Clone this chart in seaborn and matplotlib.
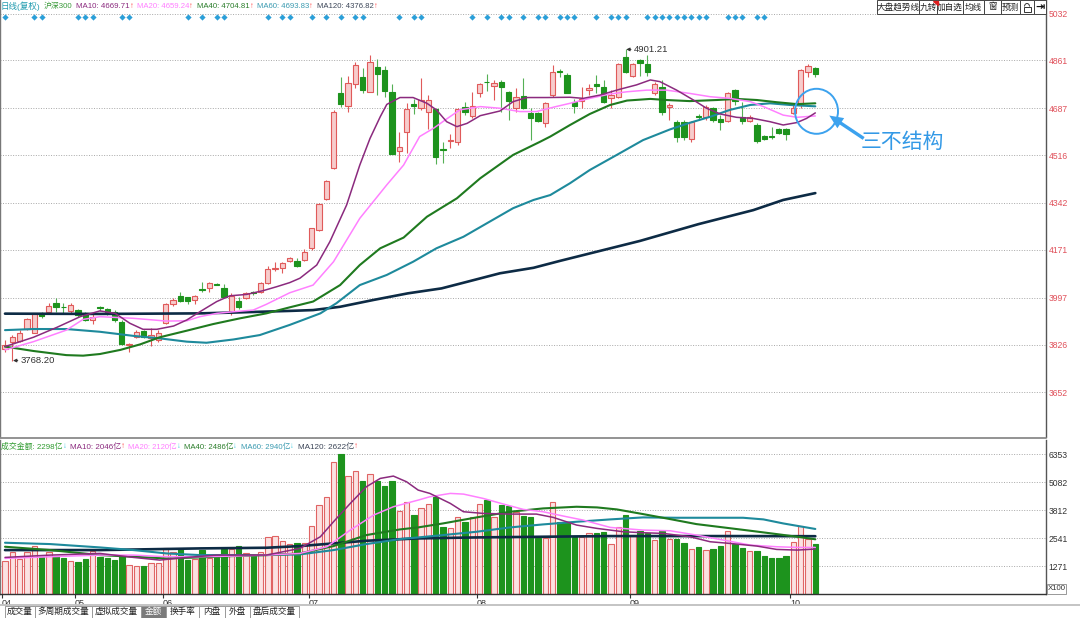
import numpy as np
import pandas as pd
import matplotlib
matplotlib.use("Agg")
import matplotlib.pyplot as plt
import seaborn as sns
from matplotlib.patches import Rectangle, Ellipse, FancyArrowPatch, Polygon, Arc
from matplotlib.transforms import blended_transform_factory

sns.set_theme(style="white")
plt.rcParams["font.family"] = ["Liberation Sans", "Noto Sans CJK SC", "DejaVu Sans"]
plt.rcParams["axes.unicode_minus"] = False

# ---------------- data ----------------
opens = [3810, 3836, 3841, 3882, 3870, 3940, 3945, 3979, 3964, 3950,
         3952, 3942, 3916, 3962, 3955, 3946, 3910, 3825, 3855, 3876,
         3849, 3843, 3904, 3974, 4004, 3998, 3989, 4027, 4031, 4047,
         4031, 3946, 3986, 3997, 4016, 4019, 4049, 4100, 4104, 4131,
         4131, 4134, 4177, 4244, 4356, 4468, 4741, 4696, 4774, 4800,
         4747, 4838, 4825, 4745, 4531, 4602, 4701, 4687, 4672, 4684,
         4537, 4569, 4563, 4693, 4659, 4741, 4784, 4768, 4781, 4745,
         4687, 4733, 4668, 4668, 4632, 4735, 4823, 4808, 4711, 4715,
         4753, 4774, 4763, 4723, 4729, 4875, 4806, 4863, 4847, 4741,
         4763, 4690, 4638, 4636, 4574, 4657, 4654, 4687, 4648, 4641,
         4753, 4654, 4642, 4626, 4586, 4585, 4610, 4610, 4668, 4700,
         4820, 4832]
closes = [3825, 3853, 3870, 3918, 3940, 3930, 3967, 3964, 3962, 3970,
          3934, 3916, 3928, 3958, 3940, 3916, 3828, 3827, 3873, 3853,
          3860, 3870, 3974, 3989, 3986, 3986, 4004, 4025, 4049, 4044,
          4001, 4003, 3962, 4013, 4014, 4049, 4100, 4104, 4125, 4140,
          4114, 4165, 4250, 4337, 4422, 4672, 4702, 4778, 4845, 4753,
          4857, 4812, 4750, 4520, 4547, 4684, 4696, 4717, 4717, 4511,
          4534, 4573, 4684, 4675, 4696, 4774, 4781, 4778, 4766, 4713,
          4727, 4687, 4653, 4642, 4707, 4818, 4818, 4744, 4695, 4719,
          4759, 4769, 4711, 4735, 4848, 4820, 4848, 4850, 4820, 4774,
          4675, 4699, 4583, 4583, 4638, 4655, 4693, 4644, 4638, 4741,
          4715, 4642, 4654, 4569, 4574, 4582, 4598, 4592, 4687, 4826,
          4841, 4810]
highs = [3843, 3861, 3879, 3924, 3942, 3946, 3979, 3997, 3976, 3976,
         3955, 3946, 3940, 3967, 3958, 3952, 3916, 3833, 3879, 3879,
         3885, 3879, 3979, 3997, 4019, 4001, 4007, 4053, 4053, 4049,
         4046, 4013, 4001, 4018, 4023, 4053, 4114, 4128, 4127, 4146,
         4140, 4174, 4252, 4341, 4426, 4681, 4800, 4806, 4857, 4832,
         4881, 4866, 4842, 4774, 4602, 4705, 4721, 4796, 4735, 4689,
         4563, 4592, 4687, 4708, 4745, 4778, 4810, 4790, 4790, 4750,
         4760, 4796, 4687, 4675, 4711, 4844, 4829, 4814, 4719, 4766,
         4774, 4808, 4790, 4753, 4853, 4901.21, 4853, 4865, 4881, 4784,
         4790, 4707, 4644, 4644, 4642, 4666, 4699, 4693, 4662, 4747,
         4756, 4711, 4662, 4632, 4590, 4617, 4614, 4614, 4699, 4829,
         4848, 4836]
lows = [3800, 3768.2, 3837, 3879, 3867, 3922, 3940, 3946, 3940, 3940,
        3928, 3913, 3901, 3950, 3934, 3910, 3825, 3800, 3849, 3849,
        3821, 3837, 3901, 3967, 3983, 3974, 3973, 4019, 4019, 4042,
        3997, 3934, 3957, 3991, 4007, 4015, 4046, 4095, 4086, 4128,
        4110, 4131, 4171, 4240, 4353, 4466, 4693, 4675, 4762, 4741,
        4745, 4735, 4729, 4520, 4490, 4523, 4665, 4681, 4611, 4484,
        4486, 4541, 4553, 4662, 4650, 4727, 4751, 4717, 4675, 4644,
        4675, 4684, 4571, 4636, 4620, 4729, 4802, 4741, 4668, 4687,
        4735, 4741, 4705, 4687, 4723, 4814, 4800, 4804, 4804, 4735,
        4662, 4644, 4565, 4571, 4565, 4644, 4644, 4638, 4608, 4636,
        4699, 4630, 4638, 4559, 4571, 4574, 4593, 4571, 4666, 4689,
        4802, 4802]
amount = [1498, 1893, 1574, 1923, 2181, 1665, 1923, 1726, 1620, 1498,
          1468, 1589, 1969, 1665, 1620, 1544, 1726, 1316, 1286, 1286,
          1422, 1422, 2075, 1923, 2029, 1544, 1589, 2000, 1620, 1665,
          2029, 2029, 2181, 1847, 1771, 1923, 2575, 2651, 2408, 2272,
          2302, 2302, 3091, 4047, 4426, 5989, 6353, 5367, 5609, 5154,
          5442, 5154, 4927, 5154, 3774, 4198, 3592, 3895, 4077, 4396,
          3061, 2985, 3516, 3288, 3516, 4077, 4274, 3516, 4047, 4001,
          3744, 3546, 3516, 2560, 2560, 4198, 3288, 3243, 2575, 2575,
          2757, 2757, 2833, 2272, 3061, 3592, 2682, 2863, 2757, 2454,
          2879, 2500, 2500, 2302, 2044, 2151, 2000, 2029, 2181, 2863,
          2272, 2075, 1953, 1969, 1726, 1650, 1650, 1726, 2348, 3106,
          2484, 2298]

# moving averages of price, sampled along the curve (bar index, value)
ma10_x = [0, 3.9, 7.1, 10.3, 13.0, 15.1, 17.1, 18.9, 20.8, 23.1, 24.9, 26.7, 29.0, 30.8, 33.1,
          35.4, 37.2, 39.0, 40.4, 42.7, 44.5, 46.8, 48.6, 50.0, 51.4, 52.3, 54.1, 55.9, 57.8,
          59.1, 60.5, 61.9, 63.3, 65.1, 67.8, 69.6, 71.5, 74.2, 77.4, 79.2, 81.5, 84.2, 86.5,
          88.4, 89.7, 92.0, 94.3, 96.1, 98.0, 100.2, 102.5, 104.8, 106.6, 108.5, 109.8, 111.0]
ma10_v = [3819, 3853, 3889, 3928, 3949, 3940, 3904, 3882, 3882, 3894, 3916, 3946, 3983, 4004, 4009,
          4023, 4037, 4052, 4068, 4116, 4201, 4335, 4480, 4577, 4656, 4701, 4726, 4726, 4705,
          4681, 4638, 4620, 4632, 4660, 4677, 4711, 4726, 4726, 4727, 4723, 4735, 4756, 4772,
          4790, 4784, 4753, 4717, 4687, 4666, 4654, 4650, 4638, 4626, 4635, 4650, 4670]
ma20_x = [0, 3.9, 8.4, 10.7, 13.0, 17.6, 22.1, 24.9, 26.7, 29.0, 31.3, 34.0, 35.8, 39.0, 42.2,
          45.0, 48.6, 52.3, 54.6, 56.8, 58.7, 60.5, 62.3, 65.1, 67.8, 70.5, 72.8, 75.3, 77.4,
          80.1, 82.9, 85.2, 87.9, 90.6, 93.8, 96.6, 99.3, 102.1, 103.9, 106.6, 108.5, 111.0]
ma20_v = [3807, 3837, 3879, 3918, 3928, 3922, 3912, 3913, 3928, 3940, 3946, 3952, 3973, 4015, 4043,
          4128, 4286, 4408, 4480, 4584, 4614, 4648, 4681, 4693, 4687, 4675, 4675, 4692, 4705,
          4723, 4739, 4747, 4753, 4753, 4741, 4729, 4723, 4711, 4693, 4662, 4654, 4659]
ma40_x = [0, 3.9, 8.4, 10.7, 13.0, 15.8, 18.5, 21.2, 24.9, 28.5, 32.2, 35.8, 39.0, 42.2, 45.9,
          48.6, 51.4, 54.6, 57.8, 61.9, 65.1, 69.6, 73.3, 74.7, 77.4, 80.1, 82.9, 85.2, 88.4,
          90.6, 93.8, 97.5, 100.2, 103.0, 105.7, 108.5, 111.0]
ma40_v = [3819, 3803, 3788, 3786, 3792, 3807, 3827, 3853, 3877, 3901, 3922, 3940, 3962, 3983, 4043,
          4116, 4177, 4216, 4292, 4359, 4432, 4517, 4565, 4584, 4626, 4666, 4699, 4715, 4721,
          4717, 4713, 4717, 4721, 4717, 4709, 4702, 4705]
ma60_x = [0, 3.9, 8.4, 13.0, 17.6, 21.2, 24.9, 27.6, 31.3, 34.9, 39.0, 43.2, 45.4, 48.6, 52.3,
          55.9, 59.1, 62.8, 66.0, 69.6, 72.4, 74.7, 77.4, 80.1, 83.8, 87.4, 91.1, 93.8, 96.6,
          99.3, 102.1, 104.8, 107.5, 111.0]
ma60_v = [3879, 3883, 3883, 3873, 3858, 3849, 3837, 3833, 3845, 3861, 3898, 3940, 3977, 4043, 4080,
          4128, 4177, 4219, 4268, 4323, 4353, 4371, 4414, 4462, 4517, 4571, 4610, 4634, 4656,
          4681, 4699, 4705, 4699, 4694]
ma120_x = [0, 13.0, 26.7, 31.3, 39.0, 42.2, 45.9, 50.5, 55.2, 59.8, 63.3, 67.8, 72.4, 76.0,
           87.0, 95.0, 102.5, 106.6, 111.0]
ma120_v = [3939, 3938, 3940, 3943, 3949, 3952, 3964, 3989, 4013, 4031, 4055, 4086, 4106, 4131,
           4204, 4265, 4316, 4353, 4378]

# moving averages of turnover
vma10_x = [0, 6.2, 13.0, 17.6, 21.2, 24.9, 29.0, 35.8, 40.4, 43.2, 45.0, 47.3, 49.5, 51.4, 53.2,
           55.0, 56.6, 58.2, 61.0, 62.8, 65.5, 69.2, 72.8, 75.1, 78.3, 81.1, 84.7, 87.5, 90.2,
           93.8, 96.6, 99.3, 103.0, 105.7, 108.5, 111.0]
vma10_v = [1665, 1771, 1847, 1665, 1544, 1665, 1771, 1771, 2075, 2606, 3288, 4123, 4881, 5260, 5367,
           5109, 4729, 4578, 4123, 3744, 3668, 3637, 3637, 3486, 3137, 2985, 2833, 2788, 2757,
           2606, 2378, 2302, 2181, 2029, 1999, 2046]
vma20_x = [0, 6.2, 13.0, 17.6, 22.1, 26.7, 31.3, 35.8, 40.4, 44.1, 47.3, 50.5, 53.2, 56.6, 58.2,
           61.0, 62.8, 65.5, 68.3, 71.0, 73.7, 76.5, 79.2, 82.9, 87.4, 91.1, 94.7, 98.4, 102.1,
           105.7, 108.5, 111.0]
vma20_v = [1620, 1696, 1771, 1771, 1696, 1696, 1726, 1771, 1847, 2151, 2909, 3592, 3971, 4274, 4426,
           4578, 4547, 4350, 4092, 3850, 3744, 3546, 3364, 3031, 2909, 2879, 2682, 2454, 2227,
           2151, 2120, 2120]
vma40_x = [0, 6.2, 13.0, 17.6, 22.1, 26.7, 31.3, 35.8, 40.4, 45.0, 49.5, 54.1, 56.6, 60.0, 64.6,
           69.2, 73.7, 78.3, 81.1, 83.8, 87.4, 91.1, 94.7, 98.4, 102.1, 105.7, 108.5, 111.0]
vma40_v = [2151, 1999, 1771, 1696, 1620, 1665, 1726, 1771, 1847, 2181, 2682, 2939, 3031, 3212, 3486,
           3744, 3895, 3971, 3941, 3850, 3637, 3410, 3182, 3031, 2879, 2727, 2606, 2490]
vma60_x = [0, 6.2, 13.0, 17.6, 22.1, 26.7, 31.3, 35.8, 40.4, 45.0, 49.5, 54.1, 56.6, 60.0, 64.6,
           69.2, 73.7, 78.3, 82.9, 87.4, 92.0, 96.6, 101.1, 103.9, 106.6, 111.0]
vma60_v = [2333, 2272, 2120, 1999, 1847, 1771, 1771, 1771, 1802, 1999, 2272, 2500, 2575, 2682, 2833,
           3031, 3167, 3288, 3395, 3486, 3470, 3470, 3470, 3395, 3212, 2960]
vma120_x = [0, 13.0, 26.7, 35.8, 40.4, 45.0, 49.5, 56.6, 64.6, 73.7, 82.9, 92.0, 101.1, 111.0]
vma120_v = [1999, 1999, 2075, 2105, 2181, 2302, 2424, 2530, 2575, 2606, 2636, 2636, 2636, 2630]

signal_bars = [0, 4, 5, 10, 11, 12, 16, 17, 25, 27, 29, 30, 36, 38, 39, 42, 44, 46, 48, 49, 54, 56,
               57, 64, 66, 68, 69, 71, 73, 74, 76, 77, 78, 81, 83, 84, 85, 88, 89, 90, 91, 92, 93,
               94, 95, 96, 99, 100, 101, 103, 104]

price_ticks = [5032, 4861, 4687, 4516, 4342, 4171, 3997, 3826, 3652]
amount_ticks = [6353, 5082, 3812, 2541, 1271]
month_bars = [0, 10, 22, 42, 65, 86, 108]
month_labels = ["04", "05", "06", "07", "08", "09", "10"]

price_header = [("日线(复权)", "", "#1f9aae"), ("沪深300", "", "#3a9a3a"),
                ("MA10: 4669.71", "↑", "#8b2a7e"), ("MA20: 4659.24", "↑", "#ff7fff"),
                ("MA40: 4704.81", "↑", "#2a7d2a"), ("MA60: 4693.83", "↑", "#3a9ab0"),
                ("MA120: 4376.82", "↑", "#3c4658")]
amount_header = [("成交金额: 2298亿", "↓", "#2f9a2f"), ("MA10: 2046亿", "↑", "#8b2a7e"),
                 ("MA20: 2120亿", "↓", "#ff7fff"), ("MA40: 2486亿", "↓", "#2a7d2a"),
                 ("MA60: 2940亿", "↓", "#3a9ab0"), ("MA120: 2622亿", "↑", "#3c4658")]
buttons = ["大盘趋势线", "九转", "加自选", "均线", "窗", "预测", "", ""]
tabs = ["成交量", "多周期成交量", "虚拟成交量", "金额", "换手率", "内盘", "外盘", "盘后成交量"]

# ---------------- layout helpers ----------------
W, H = 1080, 618
def fx(x): return x / W
def fy(y): return 1 - y / H
def rect(x0, y0, x1, y1): return [x0 / W, 1 - y1 / H, (x1 - x0) / W, (y1 - y0) / H]

fig = plt.figure(figsize=(W / 100, H / 100), dpi=100)
fig.patch.set_facecolor("white")
ax = fig.add_axes(rect(0, 0, 1046, 437))
axv = fig.add_axes(rect(0, 440, 1046, 594))
XL = (-0.685, 142.6)
for a in (ax, axv):
    a.set_facecolor("none")
    for s in a.spines.values():
        s.set_visible(False)
    a.spines["right"].set_visible(True)
    a.spines["right"].set_color("#555555")
    a.spines["right"].set_linewidth(1.0)
    a.spines["left"].set_visible(True)
    a.spines["left"].set_color("#777777")
    a.spines["left"].set_linewidth(1.0)

RED_E, RED_F = "#e05a5a", "#f7cccc"
GRN = "#1d931d"
GRN_W = "#55b055"

df = pd.DataFrame({"i": np.arange(len(opens)), "o": opens, "c": closes, "h": highs, "l": lows,
                   "amt": amount})
df["up"] = df["c"] >= df["o"]

# ---------------- price pane ----------------
for lv in price_ticks:
    ax.axhline(lv, color="#a8a8a8", lw=0.7, ls=(0, (1, 1.6)), zorder=1)
ax.vlines(df["i"], df["l"], df["h"], colors=np.where(df["up"], RED_E, GRN_W), lw=0.8, zorder=2)
body_lo = np.minimum(df["o"], df["c"])
body_h = np.maximum(np.abs(df["c"] - df["o"]), 3.0)
ax.bar(df["i"], body_h, bottom=body_lo, width=0.72,
       color=np.where(df["up"], RED_F, GRN), edgecolor=np.where(df["up"], RED_E, GRN),
       linewidth=0.8, zorder=3)

ma_specs = [(ma120_x, ma120_v, "#0d2b45", 1.9), (ma60_x, ma60_v, "#1e8a9c", 1.5),
            (ma40_x, ma40_v, "#1f7a1f", 1.5), (ma20_x, ma20_v, "#ff80ff", 1.1),
            (ma10_x, ma10_v, "#8b2a7e", 1.1)]
for xs, vs, col, lw in ma_specs:
    sns.lineplot(x=xs, y=vs, ax=ax, color=col, lw=lw, estimator=None, errorbar=None,
                 legend=False, zorder=4)

trans = blended_transform_factory(ax.transData, ax.transAxes)
ax.scatter(signal_bars, [1 - 16.5 / 437] * len(signal_bars), transform=trans, marker="D",
           s=10, color="#2b9fd8", zorder=5, linewidths=0)

hi_i = int(np.argmax(df["h"]))
lo_i = int(np.argmin(df["l"]))
for bi, val in [(hi_i, df["h"][hi_i]), (lo_i, df["l"][lo_i])]:
    ax.annotate(f"{val:.2f}", xy=(bi + 0.1, val), xytext=(bi + 1.2, val), ha="left", va="center",
                fontsize=6.8, color="#333333",
                arrowprops=dict(arrowstyle="-|>", color="#333333", lw=0.7, mutation_scale=5,
                                shrinkA=0, shrinkB=0), zorder=6)

ax.set_xlim(XL)
ax.set_ylim(3489.8, 5081.2)
ax.set_xticks([])
ax.yaxis.tick_right()
ax.set_yticks(price_ticks)
ax.set_yticklabels([str(t) for t in price_ticks])
ax.tick_params(axis="y", length=0, pad=2, labelsize=6.2, labelcolor="#e0505a")
ax.set_xlabel(""); ax.set_ylabel("")

# ---------------- turnover pane ----------------
for lv in amount_ticks:
    axv.axhline(lv, color="#a8a8a8", lw=0.7, ls=(0, (1, 1.6)), zorder=1)
axv.bar(df["i"], df["amt"], width=0.74, color=np.where(df["up"], "#fbe2e2", GRN),
        edgecolor=np.where(df["up"], "#e06464", GRN), linewidth=0.8, zorder=2)
vma_specs = [(vma120_x, vma120_v, "#0d2b45", 1.9), (vma60_x, vma60_v, "#1e8a9c", 1.5),
             (vma40_x, vma40_v, "#1f7a1f", 1.5), (vma20_x, vma20_v, "#ff80ff", 1.1),
             (vma10_x, vma10_v, "#8b2a7e", 1.1)]
for xs, vs, col, lw in vma_specs:
    sns.lineplot(x=xs, y=vs, ax=axv, color=col, lw=lw, estimator=None, errorbar=None,
                 legend=False, zorder=4)
axv.set_xlim(XL)
axv.set_ylim(0, 7009)
axv.yaxis.tick_right()
axv.set_yticks(amount_ticks)
axv.set_yticklabels([str(t) for t in amount_ticks])
axv.tick_params(axis="y", length=0, pad=2, labelsize=6.2, labelcolor="#333333")
axv.spines["bottom"].set_visible(True)
axv.spines["bottom"].set_color("#333333")
axv.spines["bottom"].set_linewidth(1.0)
axv.set_xticks([m - 0.4 for m in month_bars])
axv.set_xticklabels(month_labels)
axv.tick_params(axis="x", bottom=True, direction="out", length=3, width=0.8, color="#333333",
                labelsize=6.5, labelcolor="#333333", pad=0.5)
for lab in axv.get_xticklabels():
    lab.set_horizontalalignment("left")
axv.set_xlabel(""); axv.set_ylabel("")

# ---------------- frame lines ----------------
fig.add_artist(plt.Line2D([0, fx(1046)], [fy(438), fy(438)], color="#8a8a8a", lw=1.3))
fig.add_artist(plt.Line2D([0, 1], [fy(604.5), fy(604.5)], color="#c4c4c4", lw=1.4))

# ---------------- header texts (shrunk to fit their slots) ----------------
renderer = fig.canvas.get_renderer()
hdr_font = ["Liberation Sans Narrow", "Liberation Sans", "Noto Sans CJK SC", "DejaVu Sans"]
def header(items, starts, end, ycen, base=6.8):
    bounds = list(starts[1:]) + [end]
    for (txt, arr, col), x0, x1 in zip(items, starts, bounds):
        avail = x1 - x0 - 3
        probe = fig.text(0, 0, txt + arr, fontsize=base, family=hdr_font)
        wpx = probe.get_window_extent(renderer=renderer).width
        probe.remove()
        fs = base if wpx <= avail else base * avail / wpx
        t = fig.text(fx(x0), fy(ycen), txt, color=col, fontsize=fs, ha="left", va="center",
                     family=hdr_font)
        if arr:
            bb = t.get_window_extent(renderer=renderer)
            fig.text(bb.x1 / W, fy(ycen), arr, fontsize=fs, ha="left", va="center",
                     color="#ff4a4a" if arr == "↑" else "#45cde0", family=hdr_font)
header(price_header, [1, 44, 76, 137, 197, 257, 317], 381, 6.5)
header(amount_header, [1, 70, 128, 184, 241, 298], 362, 447)

# ---------------- buttons (top right) ----------------
bx = [877, 919, 937, 963, 984, 1001, 1020, 1034, 1046]
for k, lab in enumerate(buttons):
    fig.add_artist(Rectangle((fx(bx[k]), fy(13.5)), (bx[k + 1] - bx[k]) / W, 13 / H,
                             transform=fig.transFigure, facecolor="white", edgecolor="#444444",
                             lw=0.7, zorder=10))
    if lab:
        fig.text(fx((bx[k] + bx[k + 1]) / 2), fy(7), lab, ha="center", va="center",
                 fontsize=6.2, color="#222222", family=["Noto Sans CJK SC", "DejaVu Sans"],
                 zorder=11)
fig.add_artist(Polygon([(fx(933), fy(0.5)), (fx(937.5), fy(0.5)), (fx(937.5), fy(5))],
                       closed=True, transform=fig.transFigure, color="#e02020", zorder=12))
fig.add_artist(Rectangle((fx(1023.5), fy(11.5)), 7 / W, 5 / H, transform=fig.transFigure,
                         facecolor="white", edgecolor="#333333", lw=0.7, zorder=12))
fig.add_artist(Arc((fx(1027), fy(6.5)), 5 / W, 6 / H, theta1=0, theta2=180,
                   transform=fig.transFigure, color="#333333", lw=0.7, zorder=12))
fig.text(fx(1040), fy(7), "⇥", ha="center", va="center", fontsize=8, color="#111111",
         family=["DejaVu Sans"], weight="bold", zorder=12)

# ---------------- unit box ----------------
fig.add_artist(Rectangle((fx(1047), fy(593.5)), 19 / W, 9.5 / H, transform=fig.transFigure,
                         facecolor="white", edgecolor="#888888", lw=0.6))
fig.text(fx(1056.5), fy(589), "X100", ha="center", va="center", fontsize=5.6, color="#333333")

# ---------------- bottom tabs ----------------
tx = [5, 35, 92, 141, 166, 199, 225, 250, 299]
for k, lab in enumerate(tabs):
    sel = lab == "金额"
    fig.add_artist(Rectangle((fx(tx[k]), fy(618)), (tx[k + 1] - tx[k]) / W, 12.5 / H,
                             transform=fig.transFigure, facecolor="#7b7b7b" if sel else "white",
                             edgecolor="#9a9a9a", lw=0.7))
    fig.text(fx((tx[k] + tx[k + 1]) / 2), fy(611.5), lab, ha="center", va="center",
             fontsize=6.2, color="white" if sel else "#222222",
             family=["Noto Sans CJK SC", "DejaVu Sans"])

# ---------------- annotation ----------------
BLUE = "#3ca2ee"
fig.add_artist(Ellipse((fx(816.5), fy(111.3)), 43 / W, 45 / H, transform=fig.transFigure,
                       fill=False, edgecolor=BLUE, lw=1.4, zorder=20))
fig.add_artist(FancyArrowPatch((fx(866), fy(140)), (fx(827), fy(114)), transform=fig.transFigure,
                               arrowstyle="simple,head_length=0.9,head_width=0.8,tail_width=0.22",
                               mutation_scale=11, color=BLUE, lw=0, zorder=20))
fig.text(fx(861), fy(142), "三不结构", ha="left", va="center", fontsize=15, color="#3399e6",
         family=["Noto Sans CJK SC", "DejaVu Sans"])

fig.savefig("out.png", dpi=100, facecolor="white")
